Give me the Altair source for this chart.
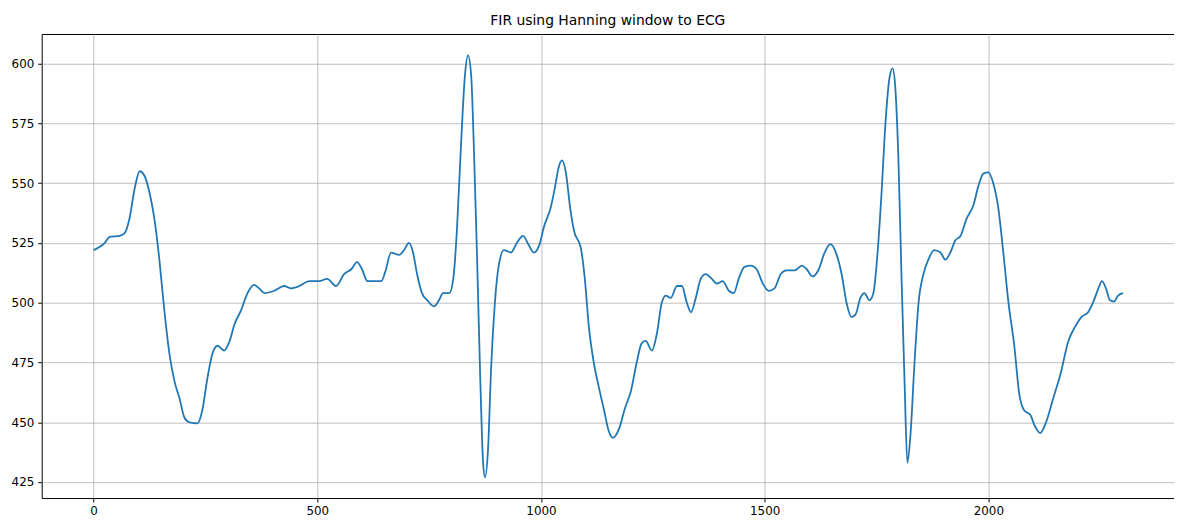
import pandas as pd
import altair as alt

# sample index and filtered ECG amplitude
sample = [0, 25, 36, 58, 69, 80, 92, 103, 114, 125, 136, 147, 158, 170, 181, 192, 203, 214, 232, 243,
          254, 266, 277, 292, 304, 315, 330, 344, 359, 370, 382, 404, 426, 442, 460, 482, 504, 522, 542, 560,
          576, 589, 600, 612, 627, 643, 652, 665, 683, 694, 705, 714, 723, 734, 746, 761, 772, 781, 795, 804,
          812, 821, 830, 837, 844, 850, 857, 864, 871, 875, 882, 888, 897, 906, 917, 933, 946, 960, 973, 984,
          996, 1007, 1022, 1031, 1040, 1047, 1056, 1065, 1074, 1089, 1098, 1107, 1118, 1129, 1141, 1152, 1161, 1174, 1188, 1201,
          1214, 1225, 1234, 1248, 1259, 1270, 1279, 1290, 1304, 1315, 1326, 1335, 1346, 1357, 1368, 1382, 1393, 1406, 1420, 1431,
          1442, 1455, 1469, 1482, 1496, 1509, 1522, 1536, 1549, 1567, 1583, 1594, 1607, 1621, 1634, 1647, 1661, 1672, 1683, 1694,
          1703, 1714, 1723, 1734, 1743, 1752, 1761, 1770, 1779, 1786, 1792, 1799, 1806, 1813, 1819, 1826, 1835, 1844, 1855, 1866,
          1879, 1893, 1904, 1915, 1926, 1938, 1951, 1967, 1978, 1989, 2000, 2011, 2022, 2034, 2045, 2058, 2069, 2080, 2094, 2105,
          2116, 2129, 2145, 2161, 2179, 2194, 2208, 2223, 2234, 2246, 2254, 2263, 2272, 2281, 2290, 2301]
amplitude = [522, 525, 527.5, 528, 529, 535, 548, 555, 553, 546, 535, 518, 497, 478, 467, 460, 452, 450, 449.5, 455,
             468, 479, 482, 480, 484, 491, 497, 504, 507.5, 506, 504, 505, 507, 506, 507, 509, 509, 510, 507, 512,
             514, 517, 514, 509, 509, 509, 513, 521, 520, 522, 525, 521, 512, 504, 501, 498.5, 501, 504, 504, 510,
             530, 565, 595, 603.5, 595, 565, 520, 470, 432, 427, 440, 470, 500, 516, 522, 521, 525, 528, 524, 521,
             524, 532, 540, 548, 557, 559.5, 554, 540, 530, 523, 510, 490, 475, 465, 455, 446, 443.5, 447, 456, 463,
             475, 483, 484, 480, 487, 500, 503, 502, 507, 507, 500, 496, 502, 510, 512, 510, 508, 509, 505, 504,
             510, 515, 515.5, 514, 508, 505, 506, 512, 513.5, 513.5, 515.5, 514, 511, 514, 521, 524.5, 520, 512, 500, 494,
             495, 502, 504, 501, 504, 520, 545, 575, 594, 598, 590, 560, 510, 465, 433, 445, 475, 500, 512, 518,
             522, 521, 518, 521, 526, 528, 535, 541, 549, 554, 554.5, 550, 540, 520, 500, 482, 462, 455, 453, 448,
             445.5, 450, 460, 470, 484, 490, 494, 496, 500, 506, 509, 506, 501, 500.5, 503, 504]

df = pd.DataFrame({"x": sample, "y": amplitude})

chart = alt.Chart(df).mark_line(color="#1f77b4", strokeWidth=1.8, interpolate="monotone").encode(
    x=alt.X("x:Q", title=None, scale=alt.Scale(domain=[-116, 2415], nice=False, zero=False),
            axis=alt.Axis(values=[0, 500, 1000, 1500, 2000], format="d")),
    y=alt.Y("y:Q", title=None, scale=alt.Scale(domain=[418.3, 612.4], nice=False, zero=False),
            axis=alt.Axis(values=[425, 450, 475, 500, 525, 550, 575, 600])),
).properties(
    width=1142, height=468,
    title="FIR using Hanning window to ECG",
    autosize="none",
    padding={"left": 34, "top": 24, "right": 0, "bottom": 30},
).configure_view(
    stroke="black", strokeWidth=1
).configure_axis(
    grid=True, gridColor="#b0b0b0", gridWidth=0.8, domain=False,
    tickColor="black", tickSize=4, labelColor="black", labelFontSize=12,
    labelFont="DejaVu Sans", labelPadding=4
).configure_title(
    font="DejaVu Sans", fontSize=14, fontWeight="normal", color="black", offset=6
)

chart.save("out.html", embed_options={"renderer": "svg", "actions": False})
